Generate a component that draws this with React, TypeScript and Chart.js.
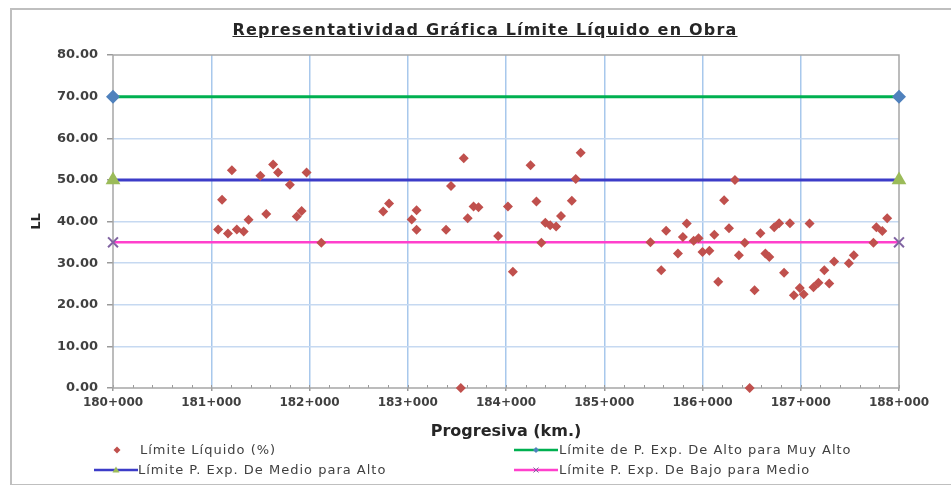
import React, { useEffect, useRef } from "react";
import { Chart, registerables } from "chart.js";

Chart.register(...registerables);

const chartTitle = "Representatividad Gráfica Límite Líquido en Obra";
const xAxisTitle = "Progresiva (km.)";
const yAxisTitle = "LL";

const progresiva = [
  181.07, 181.11, 181.17, 181.21, 181.26, 181.33, 181.38, 181.5, 181.56, 181.63, 181.68, 181.8, 181.87, 181.92, 181.97, 182.12,
  182.75, 182.81, 183.04, 183.09, 183.09, 183.39, 183.44, 183.54, 183.57, 183.61, 183.67, 183.72, 183.92, 184.02, 184.07,
  184.25, 184.31, 184.36, 184.4, 184.45, 184.51, 184.56, 184.67, 184.71, 184.76,
  185.47, 185.58, 185.63, 185.75, 185.8, 185.84, 185.91, 185.96, 186.0, 186.07, 186.12, 186.16, 186.22, 186.27, 186.33,
  186.37, 186.43, 186.48, 186.53, 186.59, 186.64, 186.68, 186.73, 186.78, 186.83, 186.89, 186.93, 186.99, 187.03, 187.09,
  187.13, 187.18, 187.24, 187.29, 187.34, 187.49, 187.54, 187.74, 187.77, 187.83, 187.88,
];
const limiteLiquido = [
  38.1, 45.2, 37.1, 52.3, 38.1, 37.6, 40.4, 51.0, 41.8, 53.7, 51.8, 48.8, 41.2, 42.5, 51.8, 34.9,
  42.4, 44.3, 40.5, 42.7, 38.0, 38.0, 48.5, 0, 55.2, 40.8, 43.6, 43.4, 36.5, 43.6, 27.9,
  53.5, 44.8, 34.9, 39.7, 39.1, 38.8, 41.3, 45.0, 50.2, 56.5,
  35.0, 28.3, 37.8, 32.3, 36.3, 39.5, 35.4, 36.0, 32.7, 33.0, 36.8, 25.5, 45.1, 38.4, 50.0,
  31.9, 34.9, 0, 23.5, 37.2, 32.3, 31.5, 38.6, 39.6, 27.7, 39.6, 22.3, 24.0, 22.5, 39.5,
  24.2, 25.3, 28.3, 25.1, 30.4, 30.0, 31.9, 34.9, 38.6, 37.7, 40.8,
];

const limiteX = [180, 188];
const limiteAltoMuyAlto = [70, 70];
const limiteMedioAlto = [50, 50];
const limiteBajoMedio = [35, 35];

const seriesNames = [
  "Límite Líquido (%)",
  "Límite de P. Exp. De Alto para Muy Alto",
  "Límite P. Exp. De Medio para Alto",
  "Límite P. Exp. De Bajo para Medio",
];

const xMin = 180;
const xMax = 188;
const xMinorStep = 0.2;
const yMin = 0;
const yMax = 80;
const yStep = 10;

const FONT = "'DejaVu Sans', sans-serif";
const TEXT = "#404040";

const fmtKm = (v: number) => {
  const km = Math.floor(v + 1e-6);
  const m = Math.round((v - km) * 1000);
  return `${km}+${String(m).padStart(3, "0")}`;
};
const isInt = (v: number) => Math.abs(v - Math.round(v)) < 1e-6;

const framePlugin = {
  id: "frame",
  beforeDatasetsDraw(chart: any) {
    const { ctx, chartArea } = chart;
    const xs = chart.scales.x;
    ctx.save();
    ctx.strokeStyle = "#9A9A9A";
    ctx.lineWidth = 1;
    for (let v = xMin; v <= xMax + 1e-6; v += xMinorStep) {
      const px = Math.round(xs.getPixelForValue(v)) + 0.5;
      ctx.beginPath();
      ctx.moveTo(px, chartArea.bottom);
      ctx.lineTo(px, chartArea.bottom - 3);
      ctx.stroke();
    }
    ctx.strokeStyle = "#A6A6A6";
    ctx.lineWidth = 1.5;
    ctx.strokeRect(chartArea.left, chartArea.top, chartArea.right - chartArea.left, chartArea.bottom - chartArea.top);
    ctx.restore();
  },
};

function ChartCanvas() {
  const ref = useRef<HTMLCanvasElement | null>(null);
  useEffect(() => {
    if (!ref.current) return;
    const pts = progresiva.map((x, i) => ({ x, y: limiteLiquido[i] }));
    const line = (ys: number[]) => limiteX.map((x, i) => ({ x, y: ys[i] }));
    const chart = new Chart(ref.current, {
      type: "scatter",
      data: {
        datasets: [
          {
            label: seriesNames[0],
            data: pts,
            pointStyle: "rectRot",
            pointRadius: 5,
            pointBackgroundColor: "#C0504D",
            pointBorderColor: "#C0504D",
            pointBorderWidth: 0,
            clip: false,
          } as any,
          {
            label: seriesNames[1],
            data: line(limiteAltoMuyAlto),
            showLine: true,
            borderColor: "#00B050",
            borderWidth: 3,
            pointStyle: "rectRot",
            pointRadius: 7,
            pointBackgroundColor: "#4F81BD",
            pointBorderColor: "#4F81BD",
            pointBorderWidth: 0,
            clip: false,
          },
          {
            label: seriesNames[2],
            data: line(limiteMedioAlto),
            showLine: true,
            borderColor: "#3C3CC8",
            borderWidth: 3,
            pointStyle: "triangle",
            pointRadius: 8.5,
            pointBackgroundColor: "#9BBB59",
            pointBorderColor: "#9BBB59",
            pointBorderWidth: 0,
            clip: false,
          },
          {
            label: seriesNames[3],
            data: line(limiteBajoMedio),
            showLine: true,
            borderColor: "#FF40CC",
            borderWidth: 2.5,
            pointStyle: "crossRot",
            pointRadius: 7,
            pointBackgroundColor: "#8064A2",
            pointBorderColor: "#8064A2",
            pointBorderWidth: 2,
            clip: false,
          },
        ],
      },
      options: {
        animation: false,
        responsive: false,
        maintainAspectRatio: false,
        layout: { padding: { top: 55, left: 20, right: 52, bottom: 37 } },
        plugins: {
          legend: { display: false },
          tooltip: { enabled: false },
          title: { display: false },
        },
        scales: {
          x: {
            type: "linear",
            min: xMin,
            max: xMax,
            afterFit: (s: any) => {
              s.height = 60;
            },
            afterBuildTicks: (s: any) => {
              const t = [];
              for (let i = 0; i <= Math.round((xMax - xMin) / xMinorStep); i++) {
                t.push({ value: +(xMin + i * xMinorStep).toFixed(4) });
              }
              s.ticks = t;
            },
            border: { display: false },
            grid: {
              color: (c: any) => (isInt(c.tick.value) && c.tick.value !== xMin && c.tick.value !== xMax ? "#A8C8EC" : "rgba(0,0,0,0)"),
              lineWidth: 1.5,
              tickColor: (c: any) => (isInt(c.tick.value) ? "#9A9A9A" : "rgba(0,0,0,0)"),
              tickLength: 3,
            },
            ticks: {
              autoSkip: false,
              maxRotation: 0,
              minRotation: 0,
              padding: 5,
              color: TEXT,
              font: { family: FONT, size: 12, weight: "bold" },
              callback: (v: any) => (isInt(Number(v)) ? fmtKm(Number(v)) : ""),
            },
            title: {
              display: true,
              text: xAxisTitle,
              color: "#262626",
              font: { family: FONT, size: 16, weight: "bold" },
              padding: { top: 0, bottom: 7 },
            },
          },
          y: {
            type: "linear",
            min: yMin,
            max: yMax,
            afterFit: (s: any) => {
              s.width = 93;
            },
            border: { display: false },
            grid: {
              color: (c: any) => (c.tick.value === yMin || c.tick.value === yMax ? "rgba(0,0,0,0)" : "#C6D9F1"),
              lineWidth: 1.5,
              tickColor: "#9A9A9A",
              tickLength: 6,
            },
            ticks: {
              stepSize: yStep,
              padding: 9,
              color: TEXT,
              font: { family: FONT, size: 13, weight: "bold" },
              callback: (v: any) => Number(v).toFixed(2),
            },
            title: {
              display: true,
              text: yAxisTitle,
              color: "#262626",
              font: { family: FONT, size: 13, weight: "bold" },
              padding: { top: 9, bottom: 0 },
            },
          },
        },
      },
      plugins: [framePlugin],
    } as any);
    return () => chart.destroy();
  }, []);
  return <canvas ref={ref} width={951} height={485} style={{ position: "absolute", left: 0, top: 0, width: 951, height: 485 }} />;
}

const legendText: React.CSSProperties = {
  position: "absolute",
  fontFamily: FONT,
  fontSize: 13,
  letterSpacing: 1,
  color: TEXT,
  whiteSpace: "nowrap",
  lineHeight: "16px",
};

function LineSample({ left, top, color, marker }: { left: number; top: number; color: string; marker: string }) {
  return (
    <svg style={{ position: "absolute", left, top: top - 8 }} width={44} height={16}>
      <line x1={0} y1={8} x2={44} y2={8} stroke={color} strokeWidth={2.5} />
      {marker === "diamond" && <polygon points="22,5 25,8 22,11 19,8" fill="#4F81BD" />}
      {marker === "triangle" && <polygon points="22,4.5 25.5,10.5 18.5,10.5" fill="#9BBB59" />}
      {marker === "x" && (
        <g stroke="#8064A2" strokeWidth={1}>
          <line x1={19.5} y1={5.5} x2={24.5} y2={10.5} />
          <line x1={24.5} y1={5.5} x2={19.5} y2={10.5} />
        </g>
      )}
    </svg>
  );
}

export default function App() {
  return (
    <div style={{ position: "absolute", left: 0, top: 0, width: 951, height: 485, overflow: "hidden", background: "#fff" }}>
      <div
        style={{
          position: "absolute",
          left: 10,
          top: 8,
          width: 960,
          height: 474,
          border: "2px solid #BFBFBF",
        }}
      />
      <ChartCanvas />
      <div
        style={{
          position: "absolute",
          left: 0,
          top: 20,
          width: 970,
          textAlign: "center",
          fontFamily: FONT,
          fontSize: 16,
          fontWeight: "bold",
          letterSpacing: 1.2,
          color: "#262626",
          textDecoration: "underline",
          lineHeight: "20px",
          whiteSpace: "nowrap",
        }}
      >
        {chartTitle}
      </div>
      <svg style={{ position: "absolute", left: 112, top: 445 }} width={10} height={10}>
        <polygon points="5,1.5 8.5,5 5,8.5 1.5,5" fill="#C0504D" />
      </svg>
      <div style={{ ...legendText, left: 140, top: 442 }}>{seriesNames[0]}</div>
      <LineSample left={94} top={469.5} color="#3C3CC8" marker="triangle" />
      <div style={{ ...legendText, left: 138, top: 461.5 }}>{seriesNames[2]}</div>
      <LineSample left={514} top={450} color="#00B050" marker="diamond" />
      <div style={{ ...legendText, left: 559, top: 442 }}>{seriesNames[1]}</div>
      <LineSample left={514} top={469.5} color="#FF40CC" marker="x" />
      <div style={{ ...legendText, left: 559, top: 461.5 }}>{seriesNames[3]}</div>
    </div>
  );
}
